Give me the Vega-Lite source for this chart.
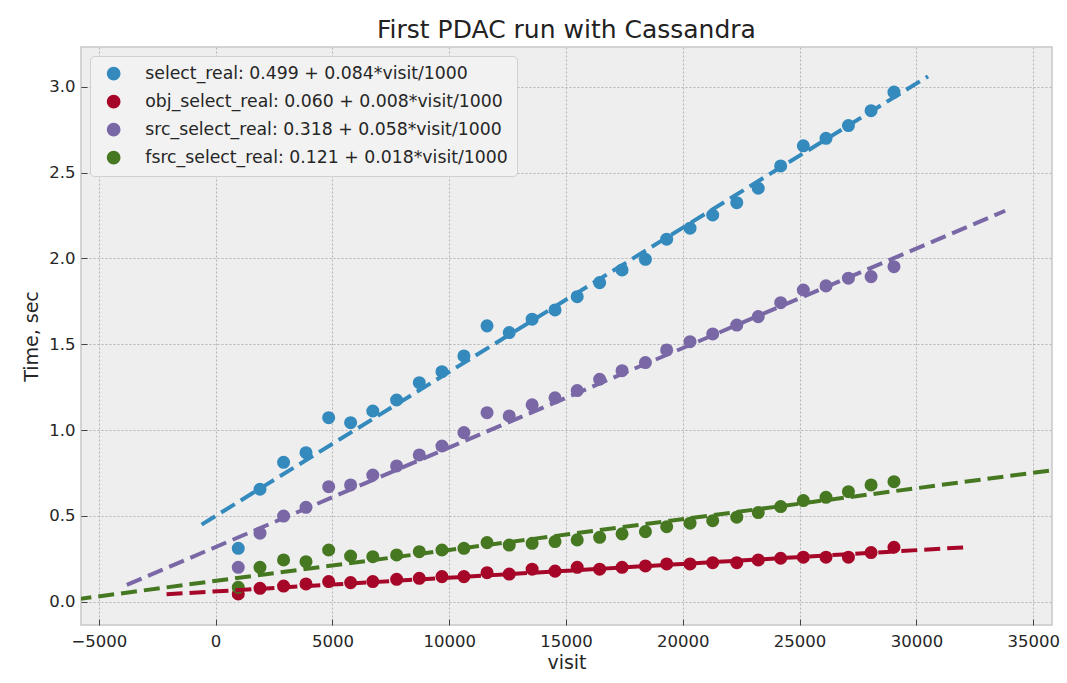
{
  "$schema": "https://vega.github.io/schema/vega-lite/v6.json",
  "width": 971,
  "height": 578,
  "autosize": {"type": "none"},
  "padding": {"left": 81, "top": 47, "right": 15, "bottom": 58},
  "background": "white",
  "title": {"text": "First PDAC run with Cassandra", "fontSize": 25, "font": "DejaVu Sans", "fontWeight": "normal", "color": "#222222", "offset": 4, "anchor": "middle"},
  "datasets": {
    "points": [
      {"visit": 970, "select_real": 0.311, "obj_select_real": 0.045, "src_select_real": 0.200, "fsrc_select_real": 0.084},
      {"visit": 1900, "select_real": 0.655, "obj_select_real": 0.078, "src_select_real": 0.399, "fsrc_select_real": 0.200},
      {"visit": 2910, "select_real": 0.812, "obj_select_real": 0.091, "src_select_real": 0.499, "fsrc_select_real": 0.243},
      {"visit": 3870, "select_real": 0.868, "obj_select_real": 0.103, "src_select_real": 0.550, "fsrc_select_real": 0.233},
      {"visit": 4840, "select_real": 1.072, "obj_select_real": 0.117, "src_select_real": 0.670, "fsrc_select_real": 0.301},
      {"visit": 5780, "select_real": 1.043, "obj_select_real": 0.111, "src_select_real": 0.680, "fsrc_select_real": 0.266},
      {"visit": 6730, "select_real": 1.111, "obj_select_real": 0.117, "src_select_real": 0.738, "fsrc_select_real": 0.262},
      {"visit": 7750, "select_real": 1.175, "obj_select_real": 0.130, "src_select_real": 0.791, "fsrc_select_real": 0.272},
      {"visit": 8720, "select_real": 1.276, "obj_select_real": 0.136, "src_select_real": 0.855, "fsrc_select_real": 0.291},
      {"visit": 9690, "select_real": 1.340, "obj_select_real": 0.146, "src_select_real": 0.907, "fsrc_select_real": 0.301},
      {"visit": 10630, "select_real": 1.432, "obj_select_real": 0.146, "src_select_real": 0.985, "fsrc_select_real": 0.311},
      {"visit": 11620, "select_real": 1.607, "obj_select_real": 0.169, "src_select_real": 1.101, "fsrc_select_real": 0.344},
      {"visit": 12570, "select_real": 1.568, "obj_select_real": 0.161, "src_select_real": 1.082, "fsrc_select_real": 0.330},
      {"visit": 13550, "select_real": 1.646, "obj_select_real": 0.189, "src_select_real": 1.147, "fsrc_select_real": 0.340},
      {"visit": 14530, "select_real": 1.700, "obj_select_real": 0.178, "src_select_real": 1.188, "fsrc_select_real": 0.350},
      {"visit": 15480, "select_real": 1.777, "obj_select_real": 0.200, "src_select_real": 1.230, "fsrc_select_real": 0.360},
      {"visit": 16440, "select_real": 1.859, "obj_select_real": 0.189, "src_select_real": 1.296, "fsrc_select_real": 0.375},
      {"visit": 17400, "select_real": 1.933, "obj_select_real": 0.200, "src_select_real": 1.346, "fsrc_select_real": 0.395},
      {"visit": 18400, "select_real": 1.995, "obj_select_real": 0.208, "src_select_real": 1.393, "fsrc_select_real": 0.408},
      {"visit": 19310, "select_real": 2.112, "obj_select_real": 0.220, "src_select_real": 1.467, "fsrc_select_real": 0.437},
      {"visit": 20310, "select_real": 2.176, "obj_select_real": 0.220, "src_select_real": 1.515, "fsrc_select_real": 0.457},
      {"visit": 21280, "select_real": 2.253, "obj_select_real": 0.227, "src_select_real": 1.560, "fsrc_select_real": 0.472},
      {"visit": 22310, "select_real": 2.325, "obj_select_real": 0.227, "src_select_real": 1.612, "fsrc_select_real": 0.492},
      {"visit": 23230, "select_real": 2.409, "obj_select_real": 0.243, "src_select_real": 1.661, "fsrc_select_real": 0.519},
      {"visit": 24190, "select_real": 2.539, "obj_select_real": 0.253, "src_select_real": 1.742, "fsrc_select_real": 0.554},
      {"visit": 25160, "select_real": 2.656, "obj_select_real": 0.259, "src_select_real": 1.816, "fsrc_select_real": 0.589},
      {"visit": 26130, "select_real": 2.700, "obj_select_real": 0.259, "src_select_real": 1.840, "fsrc_select_real": 0.608},
      {"visit": 27090, "select_real": 2.774, "obj_select_real": 0.259, "src_select_real": 1.885, "fsrc_select_real": 0.641},
      {"visit": 28060, "select_real": 2.861, "obj_select_real": 0.286, "src_select_real": 1.894, "fsrc_select_real": 0.680},
      {"visit": 29040, "select_real": 2.969, "obj_select_real": 0.317, "src_select_real": 1.952, "fsrc_select_real": 0.699}
    ],
    "fits": [
      {"series": "select_real", "visit": -600, "time": 0.449},
      {"series": "select_real", "visit": 30500, "time": 3.061},
      {"series": "obj_select_real", "visit": -2100, "time": 0.043},
      {"series": "obj_select_real", "visit": 32000, "time": 0.316},
      {"series": "src_select_real", "visit": -3800, "time": 0.098},
      {"series": "src_select_real", "visit": 33800, "time": 2.278},
      {"series": "fsrc_select_real", "visit": -6000, "time": 0.013},
      {"series": "fsrc_select_real", "visit": 36000, "time": 0.769}
    ]
  },
  "layer": [
    {
      "data": {"name": "points"},
      "transform": [{"fold": ["select_real", "obj_select_real", "src_select_real", "fsrc_select_real"], "as": ["series", "time"]}],
      "mark": {"type": "circle", "size": 170, "opacity": 1},
      "encoding": {
        "x": {
          "field": "visit", "type": "quantitative",
          "scale": {"domain": [-5762, 35805], "nice": false, "zero": false},
          "axis": {
            "values": [-5000, 0, 5000, 10000, 15000, 20000, 25000, 30000, 35000],
            "format": "d", "title": "visit", "titlePadding": 4, "labelPadding": 14
          }
        },
        "y": {
          "field": "time", "type": "quantitative",
          "scale": {"domain": [-0.136, 3.232], "nice": false, "zero": false},
          "axis": {
            "values": [0, 0.5, 1, 1.5, 2, 2.5, 3],
            "format": ".1f", "title": "Time, sec", "titlePadding": 7, "labelPadding": 12
          }
        },
        "color": {
          "field": "series", "type": "nominal",
          "scale": {"domain": ["select_real", "obj_select_real", "src_select_real", "fsrc_select_real"], "range": ["#348ABD", "#A60628", "#7A68A6", "#467821"]},
          "legend": {
            "title": null, "orient": "top-left", "offset": 9,
            "labelExpr": "datum.label == 'select_real' ? 'select_real: 0.499 + 0.084*visit/1000' : datum.label == 'obj_select_real' ? 'obj_select_real: 0.060 + 0.008*visit/1000' : datum.label == 'src_select_real' ? 'src_select_real: 0.318 + 0.058*visit/1000' : 'fsrc_select_real: 0.121 + 0.018*visit/1000'"
          }
        }
      }
    },
    {
      "data": {"name": "fits"},
      "mark": {"type": "line", "strokeWidth": 4, "strokeDash": [16, 7], "clip": true},
      "encoding": {
        "x": {"field": "visit", "type": "quantitative"},
        "y": {"field": "time", "type": "quantitative"},
        "stroke": {
          "field": "series", "type": "nominal",
          "scale": {"domain": ["select_real", "obj_select_real", "src_select_real", "fsrc_select_real"], "range": ["#348ABD", "#A60628", "#7A68A6", "#467821"]},
          "legend": null
        }
      }
    }
  ],
  "config": {
    "font": "DejaVu Sans",
    "view": {"fill": "#eeeeee", "stroke": "#c8c8c8", "strokeWidth": 1.5},
    "axis": {
      "domain": false,
      "labelFont": "DejaVu Sans", "labelFontSize": 16.5, "labelColor": "#262626",
      "titleFont": "DejaVu Sans", "titleFontSize": 19, "titleFontWeight": "normal", "titleColor": "#262626",
      "tickSize": -6, "tickColor": "#444444", "tickWidth": 1,
      "gridColor": "#b5b5b5", "gridDash": [2, 2], "gridWidth": 1,
      "labelFlush": false, "labelOverlap": false
    },
    "legend": {
      "symbolType": "circle", "symbolSize": 150, "symbolOpacity": 1,
      "labelFont": "DejaVu Sans", "labelFontSize": 17.3, "labelColor": "#262626", "labelLimit": 700,
      "fillColor": "#f2f2f2", "strokeColor": "#d0d0d0", "cornerRadius": 4,
      "padding": 9, "rowPadding": 9, "symbolOffset": 6, "labelOffset": 23
    }
  }
}
